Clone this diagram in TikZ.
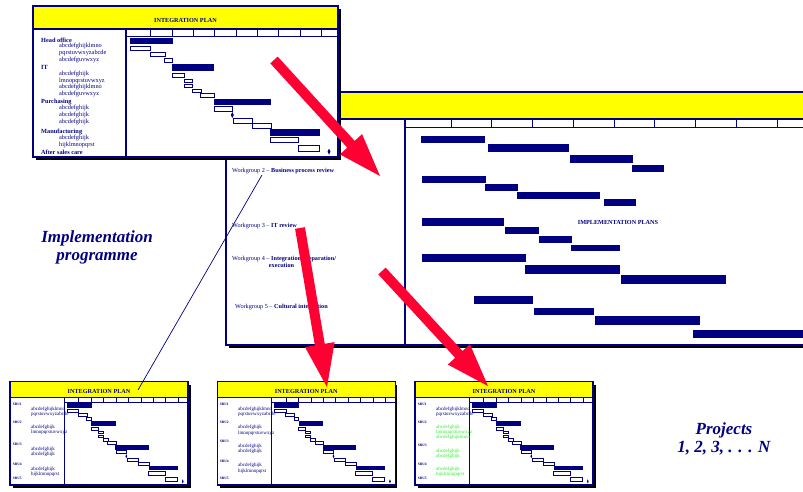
\documentclass[tikz,border=0pt]{standalone}
\usepackage{fontspec}
\setmainfont{Liberation Serif}
\usetikzlibrary{calc}
\definecolor{navy}{RGB}{0,0,128}
\definecolor{ylw}{RGB}{255,255,0}
\definecolor{arrowred}{RGB}{255,0,51}
\definecolor{lgreen}{RGB}{40,240,40}
\tikzset{
  frameline/.style={draw=navy,line width=1.3pt},
  tickline/.style={draw=navy,line width=0.6pt},
  openbar/.style={draw=navy,fill=white,line width=0.8pt},
  titletxt/.style={inner sep=0,text=navy,font=\fontsize{6.2}{7}\selectfont\bfseries},
  tlbold/.style={inner sep=0,anchor=west,text=navy,font=\fontsize{6.3}{7}\selectfont\bfseries},
  tlsub/.style={inner sep=0,anchor=west,text=navy,font=\fontsize{6.3}{7}\selectfont},
  sbu/.style={inner sep=0,anchor=west,xshift=2.7pt,text=navy,font=\fontsize{3.6}{4}\selectfont\bfseries},
  sbsub/.style={inner sep=0,anchor=west,xshift=21pt,text=navy,font=\fontsize{5}{5.5}\selectfont},
  sbgreen/.style={sbsub,text=lgreen},
  wgtxt/.style={inner sep=0,anchor=west,text=navy,font=\fontsize{6.2}{7}\selectfont},
  bigtxt/.style={inner sep=0,align=center,text=navy,font=\fontsize{17}{18}\selectfont\bfseries\itshape},
  thinlink/.style={draw=navy,line width=0.7pt}
}
\newcommand\gDark[4]{\fill[navy] (#1,#3) rectangle (#2,#4);}
\newcommand\gOpen[4]{\draw[openbar] (#1,#3) rectangle (#2,#4);}
\newcommand\gMile[2]{\fill[navy] (#1,#2-3) -- (#1+1.5,#2) -- (#1,#2+3) -- (#1-1.5,#2) -- cycle;}
% one integration-plan chart, drawn in the coordinates of the top-left window
\newcommand\chartbody[1]{%
  \fill[white] (33,6) rectangle (338,157);
  \fill[ylw] (33,6) rectangle (338,29);
  \draw[frameline] (33,29) -- (338,29);
  \draw[tickline,fill=white] (126,29) rectangle (338,36);
  \foreach \tx in {150.7,172,193.3,214.6,235.9,257.2,278.5,299.8,321.1}
    \draw[tickline] (\tx,29) -- (\tx,36);
  \draw[frameline] (126,29) -- (126,157);
  \gDark{130.3}{172.7}{38}{44.3}
  \gOpen{130.3}{150.7}{46.7}{50.7}
  \gOpen{150}{165.7}{52.3}{56.3}
  \gOpen{164.3}{172.7}{58.3}{62}
  \gDark{172.3}{214.3}{64.3}{70.7}
  \gOpen{172.3}{184.3}{73.3}{77.3}
  \gOpen{184.3}{192.7}{79}{82.3}
  \gOpen{184.3}{192.7}{84}{87.3}
  \gOpen{192.7}{201}{89}{92.7}
  \gOpen{200.3}{214.3}{93.3}{97.3}
  \gDark{213.7}{271}{98.7}{105.3}
  \gOpen{214.3}{232.3}{106.7}{111}
  \gMile{232.3}{115}
  \gOpen{233.7}{252.7}{118.7}{123}
  \gOpen{252.3}{271}{123.7}{128}
  \gDark{270.3}{320.3}{129}{135.7}
  \gOpen{270.3}{298.3}{137}{142.3}
  \gOpen{298.3}{319.7}{145.7}{151}
  \gMile{329}{151.7}
  \draw[frameline] (33,6) rectangle (338,157);
  \node[titletxt] (#1title) at (185.5,20) {INTEGRATION PLAN};
}
\newcommand\redarrow[3]{%
  \coordinate (#3) at ($(#2)!43pt!(#1)$);
  \fill[arrowred] ($(#1)!5pt!90:(#2)$) -- ($(#3)!5pt!90:(#2)$) -- ($(#3)!15pt!90:(#2)$) -- (#2)
    -- ($(#3)!15pt!-90:(#2)$) -- ($(#3)!5pt!-90:(#2)$) -- ($(#1)!5pt!-90:(#2)$) -- cycle;
}
\begin{document}
\begin{tikzpicture}[x=1pt,y=-1pt]
\useasboundingbox (0,0) rectangle (803,491);
\clip (0,0) rectangle (803,491);
\fill[white] (0,0) rectangle (803,491);

% ---- big window (implementation plans)
\fill[black] (229,95) rectangle (1000,348);
\fill[white] (226,92) rectangle (1000,345);
\fill[ylw] (226,92) rectangle (1000,119);
\draw[frameline] (226,119) -- (1000,119);
\draw[tickline,fill=white] (405,119) rectangle (1000,127);
\foreach \tx in {0,...,8} \draw[tickline] (451+\tx*40.75,119) -- (451+\tx*40.75,127);
\draw[frameline] (405,119) -- (405,345);
\draw[frameline] (226,92) rectangle (1000,345);
\gDark{421}{485}{136}{143}
\gDark{488}{569}{144}{152}
\gDark{570}{633}{155}{163}
\gDark{632}{664}{165}{172}
\gDark{422}{486}{176}{183}
\gDark{485}{518}{184}{191}
\gDark{517}{600}{192}{199}
\gDark{604}{636}{199}{206}
\gDark{422}{504}{218}{226}
\gDark{505}{539}{227}{234}
\gDark{539}{572}{236}{243}
\gDark{571}{620}{245}{251}
\gDark{422}{526}{254}{262}
\gDark{525}{620}{265}{274}
\gDark{621}{726}{275}{284}
\gDark{474}{533}{296}{304}
\gDark{534}{594}{308}{315}
\gDark{595}{700}{316}{325}
\gDark{693}{810}{330}{338}
\node[titletxt] (plans) at (618,222) {IMPLEMENTATION PLANS};
\node[wgtxt] (wg2) at (232,171) {Workgroup 2 -- \textbf{Business process review}};
\node[wgtxt] (wg3) at (232,226) {Workgroup 3 -- \textbf{IT review}};
\node[wgtxt] (wg4) at (232,259) {Workgroup 4 -- \textbf{Integration preparation/}};
\node[wgtxt,anchor=center] (wg4b) at (281.5,265.5) {\textbf{execution}};
\node[wgtxt] (wg5) at (235,307) {Workgroup 5 -- \textbf{Cultural integration}};

% ---- top-left window (integration plan)
\fill[black] (36,9) rectangle (341,160);
\chartbody{tl}
\node[tlbold] (t1) at (41,40) {Head office};
\node[tlsub] (t2) at (59,46.3) {abcdefghijklmno};
\node[tlsub] (t3) at (59,53) {pqrstuvwxyzabcde};
\node[tlsub] (t4) at (59,60) {abcdefguvwxyz};
\node[tlbold] (t5) at (41,67.7) {IT};
\node[tlsub] (t6) at (59,74) {abcdefghijk};
\node[tlsub] (t7) at (59,80.7) {lmnopqrstuvwxyz};
\node[tlsub] (t8) at (59,87.3) {abcdefghijklmno};
\node[tlsub] (t9) at (59,94) {abcdefguvwxyz};
\node[tlbold] (t10) at (41,101.7) {Purchasing};
\node[tlsub] (t11) at (59,108.3) {abcdefghijk};
\node[tlsub] (t12) at (59,115) {abcdefghijk};
\node[tlsub] (t13) at (59,122) {abcdefghijk};
\node[tlbold] (t14) at (41,131.7) {Manufacturing};
\node[tlsub] (t15) at (59,138.3) {abcdefghijk};
\node[tlsub] (t16) at (59,145) {hijklmnopqrst};
\node[tlbold] (t17) at (41,152) {After sales care};

% ---- bottom windows
\fill[black] (13,385) rectangle (191,488);
\begin{scope}[shift={(64.3,402)},xscale=0.5835,yscale=0.686,shift={(-126,-36)},
  frameline/.style={draw=navy,line width=1.1pt},tickline/.style={draw=navy,line width=0.5pt},
  openbar/.style={draw=navy,fill=white,line width=0.6pt}]
  \chartbody{wa}
\end{scope}
\fill[black] (220,385) rectangle (397,488);
\begin{scope}[shift={(271.5,402)},xscale=0.5835,yscale=0.686,shift={(-126,-36)},
  frameline/.style={draw=navy,line width=1.1pt},tickline/.style={draw=navy,line width=0.5pt},
  openbar/.style={draw=navy,fill=white,line width=0.6pt}]
  \chartbody{wb}
\end{scope}
\fill[black] (418,385) rectangle (596,488);
\begin{scope}[shift={(469.3,402)},xscale=0.5835,yscale=0.686,shift={(-126,-36)},
  frameline/.style={draw=navy,line width=1.1pt},tickline/.style={draw=navy,line width=0.5pt},
  openbar/.style={draw=navy,fill=white,line width=0.6pt}]
  \chartbody{wc}
\end{scope}

\node[sbu] (a1) at (10,404.3) {SBU1};
\node[sbsub] (a2) at (10,409) {abcdefghijklmno};
\node[sbsub] (a3) at (10,414.3) {pqrstuvwxyzabcde};
\node[sbu] (a4) at (10,422.7) {SBU2};
\node[sbsub] (a5) at (10,427.3) {abcdefghijk};
\node[sbsub] (a6) at (10,432.7) {lmnopqrstuvwxyz};
\node[sbu] (a7) at (10,444) {SBU3};
\node[sbsub] (a8) at (10,449) {abcdefghijk};
\node[sbsub] (a9) at (10,454.3) {abcdefghijk};
\node[sbu] (a10) at (10,464.3) {SBU4};
\node[sbsub] (a11) at (10,469) {abcdefghijk};
\node[sbsub] (a12) at (10,474) {hijklmnopqrst};
\node[sbu] (a13) at (10,478) {SBU5};

\node[sbu] (b1) at (217,404) {SBU1};
\node[sbsub] (b2) at (217,409) {abcdefghijklmno};
\node[sbsub] (b3) at (217,414) {pqrstuvwxyzabcde};
\node[sbu] (b4) at (217,422.7) {SBU2};
\node[sbsub] (b5) at (217,427.7) {abcdefghijk};
\node[sbsub] (b6) at (217,433) {lmnopqrstuvwxyz};
\node[sbu] (b7) at (217,441.7) {SBU3};
\node[sbsub] (b8) at (217,446.7) {abcdefghijk};
\node[sbsub] (b9) at (217,451.7) {abcdefghijk};
\node[sbu] (b10) at (217,461) {SBU4};
\node[sbsub] (b11) at (217,465.7) {abcdefghijk};
\node[sbsub] (b12) at (217,471) {hijklmnopqrst};
\node[sbu] (b13) at (217,478.3) {SBU5};

\node[sbu] (c1) at (415,404) {SBU1};
\node[sbsub] (c2) at (415,409.3) {abcdefghijklmno};
\node[sbsub] (c3) at (415,414.3) {pqrstuvwxyzabcde};
\node[sbu] (c4) at (415,422.7) {SBU2};
\node[sbgreen] (c5) at (415,427.7) {abcdefghijk};
\node[sbgreen] (c6) at (415,432.7) {lmnopqrstuvwxyz};
\node[sbgreen] (c7) at (415,437.7) {abcdefghijklmno};
\node[sbu] (c8) at (415,445.7) {SBU3};
\node[sbgreen] (c9) at (415,451) {abcdefghijk};
\node[sbgreen] (c10) at (415,456) {abcdefghijk};
\node[sbu] (c11) at (415,464) {SBU4};
\node[sbgreen] (c12) at (415,469) {abcdefghijk};
\node[sbgreen] (c13) at (415,474.3) {hijklmnopqrst};
\node[sbu] (c14) at (415,478.3) {SBU5};

% ---- free texts
\node[bigtxt] (impl) at (97,247) {Implementation\\programme};
\node[bigtxt] (proj) at (724,439) {Projects\\1, 2, 3, . . . N};

% ---- thin link
\coordinate (linkA) at (262,175);
\coordinate (linkB) at (138,390);
\draw[thinlink] (linkA) -- (linkB);

% ---- red arrows
\coordinate (r1s) at (274,60);  \coordinate (r1e) at (380,176);
\coordinate (r2s) at (300,228); \coordinate (r2e) at (327,387);
\coordinate (r3s) at (382,271); \coordinate (r3e) at (488,386);
\redarrow{r1s}{r1e}{r1h}
\redarrow{r2s}{r2e}{r2h}
\redarrow{r3s}{r3e}{r3h}
\end{tikzpicture}
\end{document}
